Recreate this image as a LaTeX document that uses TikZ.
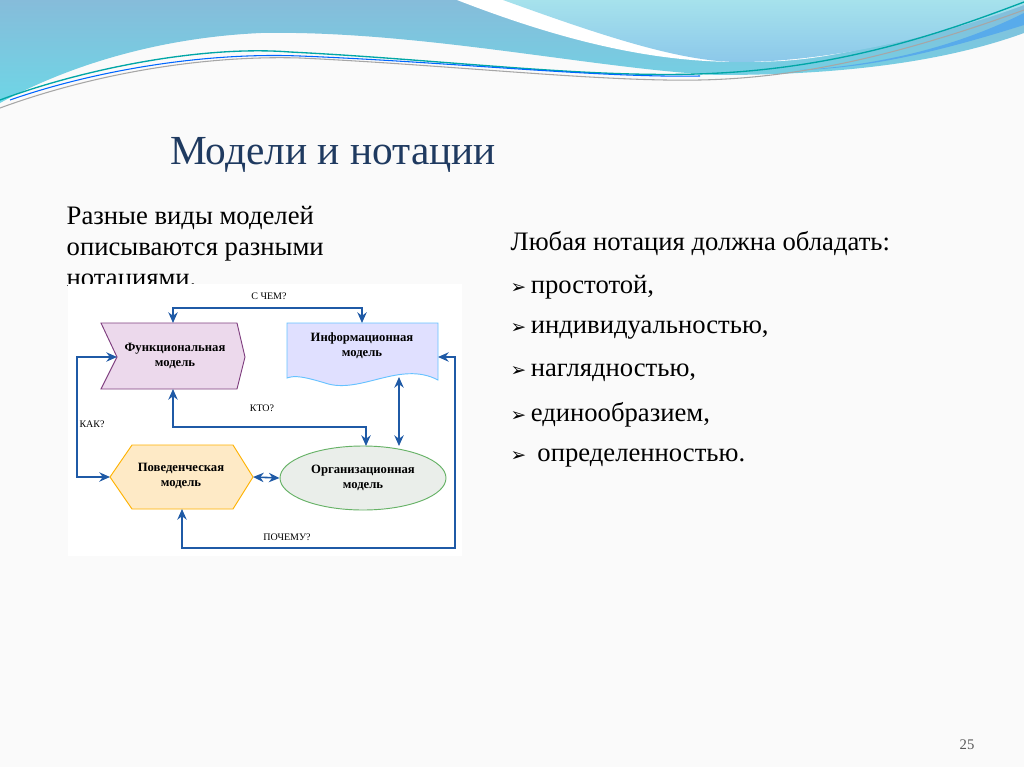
\documentclass[tikz,border=0pt]{standalone}
\usepackage{fontspec}
\setmainfont{Liberation Serif}
\usetikzlibrary{arrows.meta,shapes.geometric}
\definecolor{ttl}{HTML}{1F3A60}
\definecolor{arr}{HTML}{1F5AA6}
\definecolor{wA}{HTML}{86BCDA}
\definecolor{wB}{HTML}{6ED6E6}
\definecolor{wC}{HTML}{A6E2EC}
\definecolor{wD}{HTML}{8CC8EA}
\tikzset{
  conn/.style={draw=arr,line width=1.2pt,-{Stealth[length=8pt,width=7pt]}},
  bconn/.style={draw=arr,line width=1.2pt,{Stealth[length=8pt,width=7pt]}-{Stealth[length=8pt,width=7pt]}},
  lbl/.style={font=\fontsize{7.5}{9}\selectfont},
  mtxt/.style={font=\bfseries\fontsize{9.5}{11}\selectfont,align=center},
  body/.style={font=\fontsize{20}{23}\selectfont,anchor=west,align=left},
  bul/.style={font=\fontspec{DejaVu Sans}\fontsize{14}{16}\selectfont}
}
\newcommand{\bl}{{\fontspec{DejaVu Sans}\fontsize{14}{16}\selectfont ➢}}
\begin{document}
\begin{tikzpicture}[x=0.75pt,y=-0.75pt]
\useasboundingbox (0,0) rectangle (1024,767);
\fill[white!96!gray] (0,0) rectangle (1024,767);
% wave background
\shade[top color=wA,bottom color=wB] (0,0) -- (1024,0) -- (1024,33)
  .. controls (950,60) and (850,75) .. (719,75)
  .. controls (600,70) and (420,30) .. (261,33)
  .. controls (150,38) and (60,70) .. (0,103) -- cycle;
\fill[white] (457,0) .. controls (560,40) and (650,62) .. (739,62) .. controls (800,62) and (850,60) .. (1024,0) -- cycle;
\shade[top color=wC,bottom color=wD] (503,0) .. controls (600,35) and (680,62) .. (739,62) .. controls (820,62) and (930,40) .. (1024,5) -- (1024,0) -- cycle;
\fill[wB!80!blue] (1024,13) .. controls (950,50) and (870,66) .. (800,70) .. controls (880,68) and (960,45) .. (1024,25) -- cycle;
\draw[teal!70!cyan,line width=1pt] (0,100) .. controls (80,70) and (200,45) .. (290,52) .. controls (450,60) and (600,80) .. (720,73) .. controls (850,66) and (950,30) .. (1024,2);
\draw[blue!60!cyan,line width=0.8pt] (10,100) .. controls (90,72) and (200,52) .. (300,56) .. controls (450,62) and (600,78) .. (700,76);
\draw[gray!70,line width=0.8pt] (0,108) .. controls (90,75) and (200,55) .. (300,58) .. controls (450,65) and (600,82) .. (700,80) .. controls (800,78) and (900,55) .. (1024,10);
% texts
\node[ttl,font=\fontsize{31}{35}\selectfont] (title) at (333,155) {Модели и нотации};
\node[body] (lt) at (62,249) {Разные виды моделей\\описываются разными\\нотациями.};
\node[body] (r0) at (506,244) {Любая нотация должна обладать:};
\node[body] (r1) at (506,287) {\bl\,простотой,};
\node[body] (r2) at (506,330) {\bl\,индивидуальностью,};
\node[body] (r3) at (506,373) {\bl\,наглядностью,};
\node[body] (r4) at (506,415) {\bl\,единообразием,};
\node[body] (r5) at (506,458) {\bl\ \,определенностью.};
\node[gray!70!black,font=\fontsize{11}{13}\selectfont] (pg) at (967,745) {25};
% diagram frame
\fill[white] (68,284) rectangle (462,556);
% shapes
\filldraw[fill=violet!15,draw=violet!50!gray,line width=0.7pt]
  (101,323) -- (237,323) -- (245,357) -- (237,389) -- (101,389) -- (117,357) -- cycle;
\node[mtxt] (fun) at (175,356) {Функциональная\\модель};
\coordinate (funTop) at (173,323);
\coordinate (funBot) at (173,389);
\coordinate (funL) at (117,357);
\filldraw[fill=blue!12,draw=blue!40!cyan!60,line width=0.7pt]
  (287,323) -- (438,323) -- (438,380) .. controls (400,360) and (360,395) .. (325,383) .. controls (305,377) and (295,375) .. (287,378) -- cycle;
\node[mtxt] (inf) at (362,346) {Информационная\\модель};
\coordinate (infTop) at (362,323);
\coordinate (infBot) at (399,377);
\coordinate (infR) at (438,357);
\filldraw[fill=yellow!25!orange!20,draw=orange!60!yellow,line width=0.7pt]
  (132,445) -- (233,445) -- (253,477) -- (233,509) -- (132,509) -- (110,477) -- cycle;
\node[mtxt] (beh) at (181,476) {Поведенческая\\модель};
\coordinate (behL) at (110,477);
\coordinate (behR) at (253,477);
\coordinate (behBot) at (182,509);
\node[ellipse,draw=green!50!black!60,fill=green!12!gray!15,line width=0.7pt,minimum width=124.5pt,minimum height=48pt,inner sep=0pt] (org) at (363,478) {};
\node[mtxt] at (org) {Организационная\\модель};
% connectors
\draw[bconn] (funTop) -- (173,308) -- (362,308) -- (infTop);
\node[lbl] (l1) at (269,296) {С ЧЕМ?};
\draw[bconn] (funL) -- (77,357) -- (77,477) -- (behL);
\node[lbl] (l2) at (92,424) {КАК?};
\draw[bconn] (funBot) -- (173,427) -- (366,427) -- (366,446);
\node[lbl] (l3) at (262,408) {КТО?};
\draw[bconn] (infBot) -- (399,446);
\draw[bconn] (behR) -- (org.west);
\draw[bconn] (behBot) -- (182,548) -- (455,548) -- (455,357) -- (infR);
\node[lbl] (l4) at (287,537) {ПОЧЕМУ?};
\end{tikzpicture}
\end{document}
